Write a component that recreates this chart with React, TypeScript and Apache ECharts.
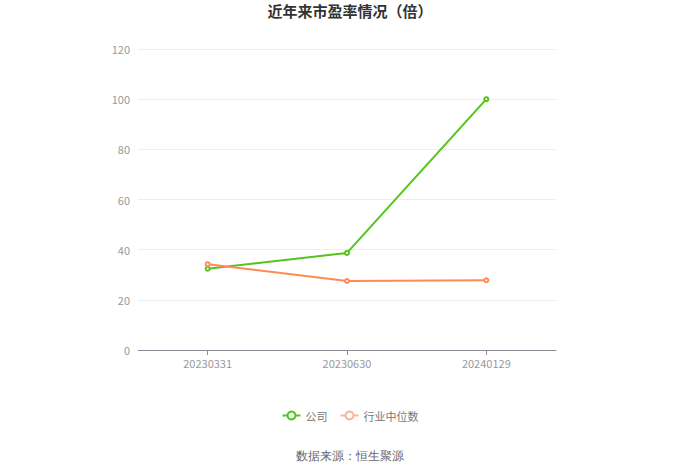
import React, { useEffect, useRef } from 'react';
import * as echarts from 'echarts';

const categories = ['20230331', '20230630', '20240129'];
const companyValues = [32.4, 38.7, 100.0];
const industryValues = [34.2, 27.5, 27.8];
const yTicks = { min: 0, max: 120, interval: 20 };

const GREEN = '#52c41a';
const ORANGE = '#ff8a52';
const ORANGE_LIGHT = '#fbb49a';

export default function App() {
  const chartRef = useRef<HTMLDivElement>(null);

  useEffect(() => {
    if (!chartRef.current) return;
    const chart = echarts.init(chartRef.current, undefined, { renderer: 'svg' });

    const option: echarts.EChartsOption = {
      animation: false,
      backgroundColor: '#fff',
      textStyle: { fontFamily: '"Noto Sans CJK SC", "Noto Sans", sans-serif' },
      title: {
        text: '近年来市盈率情况（倍）',
        left: 'center',
        top: -2,
        textStyle: { color: '#333', fontSize: 15, fontWeight: 'bold' }
      },
      grid: { left: 138, right: 144, top: 49, bottom: 123 },
      legend: {
        bottom: 47,
        left: 'center',
        itemWidth: 18,
        itemHeight: 10,
        itemGap: 12,
        textStyle: { color: '#777', fontSize: 11 },
        data: [
          { name: '公司' },
          {
            name: '行业中位数',
            itemStyle: { color: ORANGE_LIGHT },
            lineStyle: { color: ORANGE_LIGHT }
          }
        ]
      },
      xAxis: {
        type: 'category',
        data: categories,
        boundaryGap: true,
        axisLine: { lineStyle: { color: '#8c8c99', width: 1 } },
        axisTick: { show: true, alignWithLabel: true, lineStyle: { color: '#8c8c99' } },
        axisLabel: { color: '#999', fontSize: 11, margin: 7 }
      },
      yAxis: {
        type: 'value',
        min: yTicks.min,
        max: yTicks.max,
        interval: yTicks.interval,
        axisLine: { show: false },
        axisTick: { show: false },
        axisLabel: { color: '#999', fontSize: 11, margin: 8 },
        splitLine: { lineStyle: { color: '#eceef4' } }
      },
      series: [
        {
          name: '公司',
          type: 'line',
          data: companyValues,
          symbol: 'emptyCircle',
          symbolSize: 4,
          itemStyle: { color: GREEN },
          lineStyle: { color: GREEN, width: 2 }
        },
        {
          name: '行业中位数',
          type: 'line',
          data: industryValues,
          symbol: 'emptyCircle',
          symbolSize: 4,
          itemStyle: { color: ORANGE },
          lineStyle: { color: ORANGE, width: 2 }
        }
      ],
      graphic: [
        {
          type: 'text',
          left: 'center',
          top: 450,
          style: { text: '数据来源：恒生聚源', fill: '#666', fontSize: 12 }
        }
      ]
    };

    chart.setOption(option);
    return () => {
      chart.dispose();
    };
  }, []);

  return (
    <div
      ref={chartRef}
      style={{ position: 'fixed', left: 0, top: 0, width: 700, height: 473 }}
    />
  );
}
